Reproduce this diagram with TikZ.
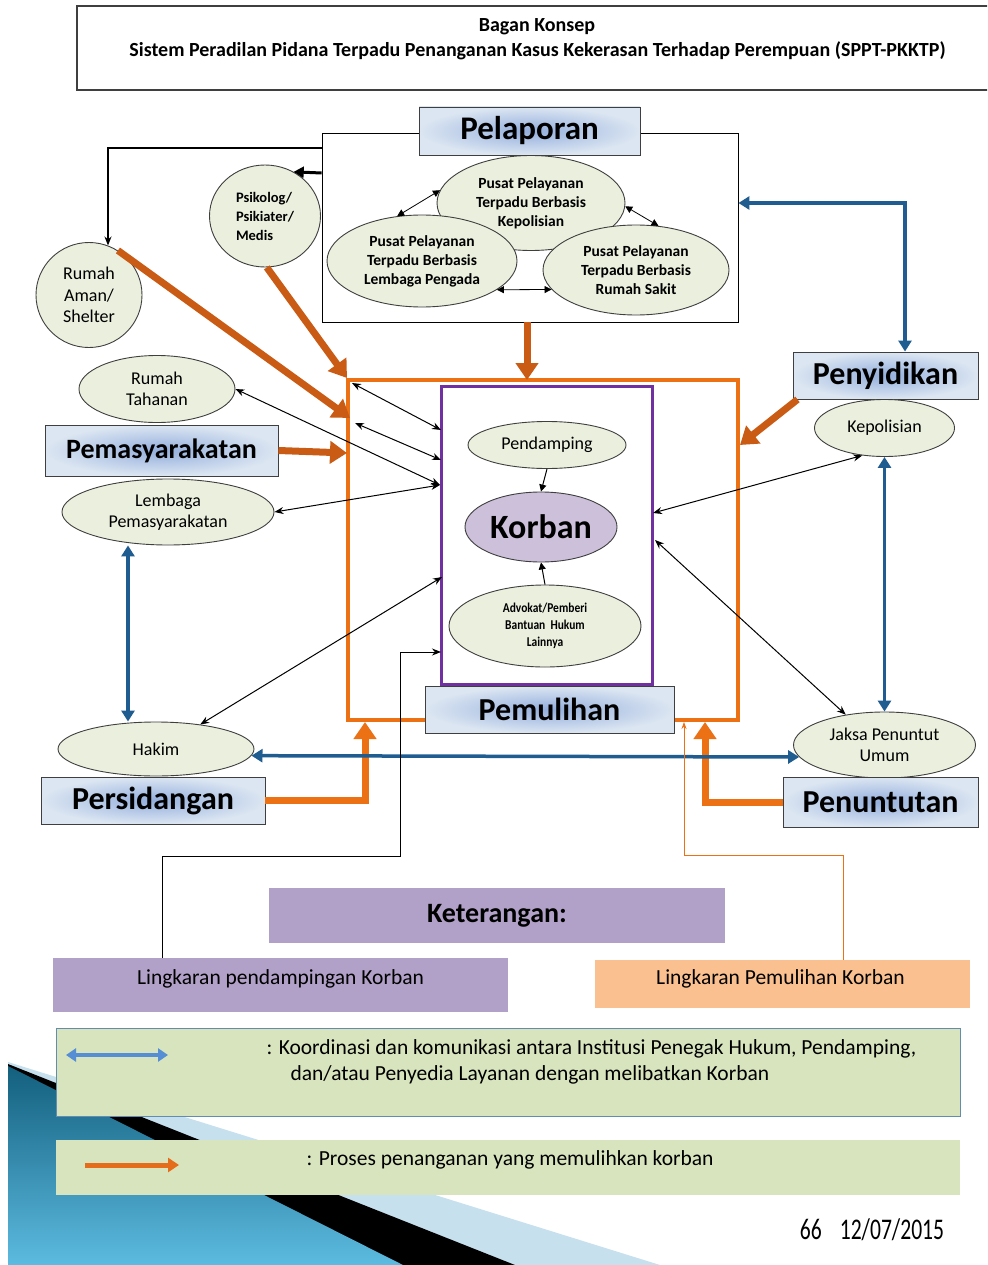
\documentclass[tikz,border=0pt]{standalone}
\usepackage{fontspec}
\setmainfont{Carlito}
\newfontfamily\condf[FakeStretch=0.85]{Carlito}
\newfontfamily\narrowf[FakeStretch=0.72]{Carlito}
\usetikzlibrary{arrows.meta,shapes.geometric,calc}
\definecolor{ellfill}{HTML}{EBF0DE}
\definecolor{ellline}{HTML}{3F3F3F}
\definecolor{lblin}{HTML}{93AEDC}
\definecolor{lblout}{HTML}{DCE6F2}
\definecolor{orgA}{HTML}{C95B14}
\definecolor{orgB}{HTML}{EC7014}
\definecolor{steel}{HTML}{1F5C8F}
\definecolor{purp}{HTML}{7030A0}
\definecolor{korb}{HTML}{CCC0DA}
\definecolor{lav}{HTML}{B1A0C7}
\definecolor{peach}{HTML}{FAC090}
\definecolor{lgreen}{HTML}{D7E4BD}
\definecolor{legblue}{HTML}{558ED5}
\definecolor{legorg}{HTML}{E46C1A}
\definecolor{tealA}{HTML}{135F7E}
\definecolor{tealB}{HTML}{5CBBE0}
\definecolor{hatchc}{HTML}{C6E0EE}
\tikzset{
  ell/.style={ellipse, draw=ellline, fill=ellfill, line width=0.9pt, inner sep=0pt, align=center, font=\fontsize{18}{21.5}\selectfont},
  ellb/.style={ell, font=\fontsize{15.5}{19}\selectfont\bfseries},
  lbl/.style={rectangle, draw=ellline, line width=0.9pt, shade, inner color=lblin, outer color=lblout, inner sep=0pt, font=\fontsize{32}{34}\selectfont\bfseries},
  ogA/.style={draw=orgA, line width=7pt, -{Triangle[width=22pt,length=17pt]}},
  ogB/.style={draw=orgB, line width=7pt, -{Triangle[width=22pt,length=17pt]}},
  blu/.style={draw=steel, line width=3.5pt, {Triangle[width=13pt,length=11pt]}-{Triangle[width=13pt,length=11pt]}},
  blk/.style={draw=black, line width=1pt, {Stealth[length=9pt,width=7pt]}-{Stealth[length=9pt,width=7pt]}},
  blks/.style={draw=black, line width=0.8pt, {Triangle[length=7pt,width=7pt]}-{Triangle[length=7pt,width=7pt]}},
  legbox/.style={rectangle, inner sep=0pt},
  legtxt/.style={font=\fontsize{21.5}{24}\selectfont}
}
\begin{document}
\begin{tikzpicture}[x=1pt,y=-1pt]
\useasboundingbox (0,0) rectangle (987,1265);
\clip (0,0) rectangle (987,1265);
\fill[white] (0,0) rectangle (987,1265);

% decoration bottom left
\fill[hatchc] (8,1062) -- (660,1265) -- (8,1265) -- cycle;
\fill[black] (8,1064) -- (515,1265) -- (8,1265) -- cycle;
\shade[top color=tealA, bottom color=tealB] (8,1066) -- (403,1265) -- (8,1265) -- cycle;

% title
\node[draw=ellline, line width=1.5pt, minimum width=925pt, minimum height=84pt, inner sep=0pt] (titlebox) at (539.5,48) {};
\node[font=\fontsize{20}{22}\selectfont\bfseries] (t1) at (537,27) {Bagan Konsep};
\node[font=\fontsize{20}{22}\selectfont\bfseries] (t2) at (537.5,51) {Sistem Peradilan Pidana Terpadu Penanganan Kasus Kekerasan Terhadap Perempuan (SPPT-PKKTP)};

% recovery circle and accompaniment circle
\node[draw=orgB, line width=4pt, minimum width=390pt, minimum height=340pt, inner sep=0pt] (orbox) at (543,550) {};
\node[draw=purp, line width=3pt, minimum width=211pt, minimum height=298pt, inner sep=0pt] (pubox) at (546.5,535) {};

% Pelaporan group
\node[draw=black, line width=0.9pt, minimum width=416pt, minimum height=189pt, inner sep=0pt] (plbox) at (530,227.5) {};
\node[ellb, minimum width=188pt, minimum height=95pt] (ppk) at (531,203) {Pusat Pelayanan\\Terpadu Berbasis\\Kepolisian};
\node[ellb, minimum width=190pt, minimum height=92pt] (ppl) at (422,261) {Pusat Pelayanan\\Terpadu Berbasis\\Lembaga Pengada};
\node[ellb, minimum width=186pt, minimum height=90pt] (prs) at (636,270) {Pusat Pelayanan\\Terpadu Berbasis\\Rumah Sakit};
\draw[blks] (ppl.119) -- (ppk.172);
\draw[blks] (ppk.-2) -- (prs.63);
\draw[blks] (ppl.-21) -- (prs.193);
\node[lbl, minimum width=221pt, minimum height=48pt, font=\fontsize{33}{35}\selectfont\bfseries] (pelaporan) at (529.5,131) {Pelaporan};

% left top ellipses
\node[ellb, minimum width=111pt, minimum height=102pt, align=left, font=\fontsize{14.5}{19}\selectfont\bfseries] (psik) at (265,216) {Psikolog/\\Psikiater/\\Medis};
\node[ell, minimum width=106pt, minimum height=105pt] (raman) at (89,295) {Rumah\\Aman/\\Shelter};
\draw[line width=1.3pt, -{Stealth[length=9pt,width=7pt]}] ([yshift=79.5pt]plbox.west) -| (raman.69);
\draw[line width=3pt, -{Triangle[length=10pt,width=11pt]}] ([yshift=54.5pt]plbox.west) -- (psik.57);

% inside
\node[ell, minimum width=158pt, minimum height=47pt] (pend) at (547,445) {Pendamping};
\node[ell, fill=korb, minimum width=152pt, minimum height=70pt, font=\fontsize{34}{36}\selectfont\bfseries] (korban) at (541,527) {Korban};
\node[ell, minimum width=192pt, minimum height=82pt, font=\condf\fontsize{13.5}{17}\selectfont\bfseries] (adv) at (545,626) {Advokat/Pemberi\\Bantuan\ \ Hukum\\Lainnya};
\draw[line width=1pt, -{Triangle[length=7pt,width=7pt]}] (pend.south) -- (korban.north);
\draw[line width=1pt, -{Triangle[length=7pt,width=7pt]}] (adv.north) -- (korban.south);
\node[lbl, minimum width=249pt, minimum height=47pt] (pemulihan) at (549.5,709.5) {Pemulihan};

% left side
\node[ell, minimum width=156pt, minimum height=67pt] (rt) at (157,389) {Rumah\\Tahanan};
\node[lbl, minimum width=233pt, minimum height=51pt, font=\fontsize{28}{30}\selectfont\bfseries] (pemas) at (161.5,450.5) {Pemasyarakatan};
\node[ell, minimum width=212pt, minimum height=66pt] (lp) at (168,512) {Lembaga\\Pemasyarakatan};
\node[ell, minimum width=196pt, minimum height=54pt] (hakim) at (156,749) {Hakim};
\node[lbl, minimum width=224pt, minimum height=47pt] (persid) at (153,800.5) {Persidangan};

% right side
\node[lbl, minimum width=185pt, minimum height=47pt] (penyid) at (885.5,375.5) {Penyidikan};
\node[ell, minimum width=140pt, minimum height=57pt] (kepol) at (884.5,428) {Kepolisian};
\node[ell, minimum width=182pt, minimum height=66pt] (jaksa) at (884.5,745) {Jaksa Penuntut\\Umum};
\node[lbl, minimum width=195pt, minimum height=50pt] (penunt) at (880.5,802) {Penuntutan};

% attachment points on the two circles
\coordinate (k1a) at (352,383);
\coordinate (k1b) at (441,430);
\coordinate (k2a) at (355,423);
\coordinate (k2b) at (441,460);
\coordinate (kc) at (440,485);
\coordinate (k5) at (442,577);
\coordinate (k6) at (441,652);
\coordinate (k7) at (653,513);
\coordinate (k8) at (655,540);
\coordinate (oA) at (350,418);
\coordinate (oB) at (347,378);
\coordinate (oC) at (527,380);
\coordinate (oD) at (740,445);
\coordinate (oE) at (347,453);
\coordinate (oF) at (365,722);
\coordinate (oG) at (705,722);
\coordinate (oH) at (684,722);
\coordinate (bendL) at (400,856);
\coordinate (bendR) at (684,855);

% black connectors
\draw[blk] (k1a) -- (k1b);
\draw[blk] (k2a) -- (k2b);
\draw[blk] (rt.east) -- (kc);
\draw[blk] (lp.east) -- (kc);
\draw[blk] (hakim.29) -- (k5);
\draw[blk] (k7) -- (kepol.231);
\draw[blk] (k8) -- (jaksa.142);

% orange process arrows
\draw[ogA] (raman.57) -- (oA);
\draw[ogA] (psik.-88) -- (oB);
\draw[ogA] ([xshift=-3pt]plbox.south) -- (oC);
\draw[ogA] ([xshift=-88pt]penyid.south) -- (oD);
\draw[ogA] (pemas.east) -- (oE);
\draw[ogB] (persid.east) -| (oF);
\draw[ogB] (penunt.west) -| (oG);

% blue coordination arrows
\draw[blu] ([yshift=24.5pt]plbox.east) -| ([xshift=19.5pt]penyid.north);
\draw[blu] (kepol.south) -- (jaksa.north);
\draw[blu] ([xshift=-40pt]lp.south) -- ([xshift=-28pt]hakim.north);
\draw[blu] (hakim.-4.9) -- (jaksa.188);

% legend
\node[legbox, fill=lav, minimum width=456pt, minimum height=55pt, font=\fontsize{28}{30}\selectfont\bfseries] (ket) at (497,915.5) {Keterangan:};
\node[legbox, fill=lav, minimum width=455pt, minimum height=54pt] (lpd) at (280.5,985) {};
\node[legtxt] (lpdt) at (280.5,979) {Lingkaran pendampingan Korban};
\node[legbox, fill=peach, minimum width=375pt, minimum height=48pt] (lpm) at (782.5,984) {};
\node[legtxt] (lpmt) at (780.5,979) {Lingkaran Pemulihan Korban};
\draw[line width=0.9pt, -{Stealth[length=9pt,width=7pt]}] ([xshift=-118.5pt]lpd.north) |- (bendL) |- (k6);
\draw[draw=orgB, line width=0.8pt, -{Stealth[length=7pt,width=5pt]}] ([xshift=60.5pt]lpm.north) |- (bendR) -- (oH);

\node[legbox, fill=lgreen, draw=steel!70, line width=0.8pt, minimum width=904pt, minimum height=88pt] (g1) at (508,1072) {};
\node[legbox, fill=lgreen, minimum width=904pt, minimum height=55pt] (g2) at (508,1167.5) {};
\coordinate (la1) at (66,1055);
\coordinate (la2) at (168,1055);
\coordinate (lb1) at (85,1165);
\coordinate (lb2) at (179,1165);
\draw[draw=legblue, line width=4.5pt, {Triangle[width=13pt,length=10pt]}-{Triangle[width=13pt,length=10pt]}] (la1) -- (la2);
\draw[draw=legorg, line width=5pt, -{Triangle[width=14pt,length=11pt]}] (lb1) -- (lb2);
\node[anchor=west, legtxt] (lt1) at (263,1049) {: Koordinasi dan komunikasi antara Institusi Penegak Hukum, Pendamping,};
\node[anchor=west, legtxt] (lt2) at (287,1075) {dan/atau Penyedia Layanan dengan melibatkan Korban};
\node[anchor=west, legtxt] (lt3) at (303,1160) {: Proses penanganan yang memulihkan korban};

\node[font=\narrowf\fontsize{30}{32}\selectfont] (pg) at (872,1230) {66\hspace{18pt}12/07/2015};
\end{tikzpicture}
\end{document}
